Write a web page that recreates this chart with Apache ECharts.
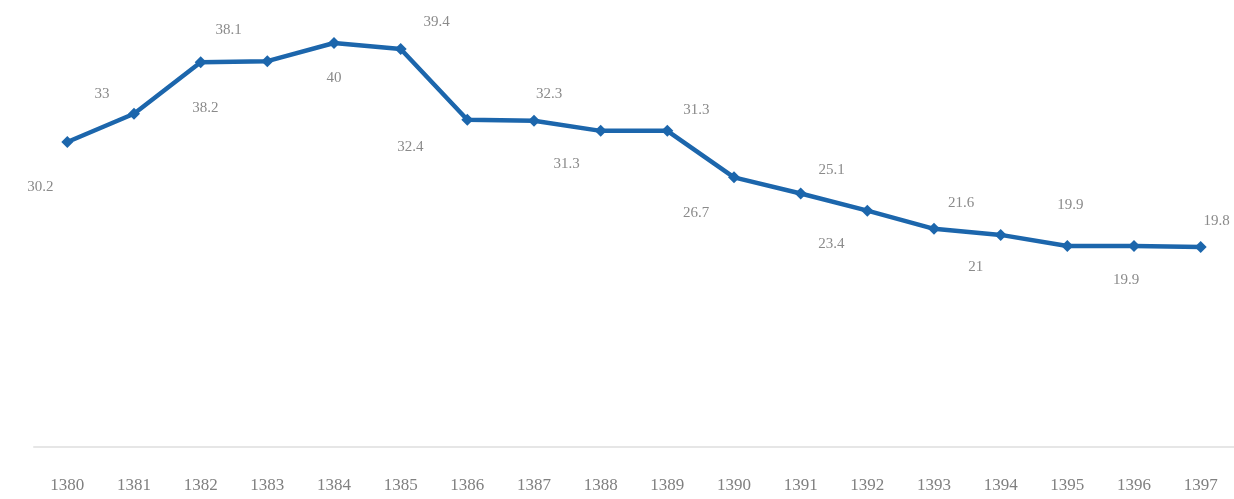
<!DOCTYPE html>
<html>
<head>
<meta charset="utf-8">
<script src="https://cdn.jsdelivr.net/npm/echarts@6/dist/echarts.min.js"></script>
<style>
  html, body { margin: 0; padding: 0; background: #fff; }
  #chart { width: 1234px; height: 499px; }
</style>
</head>
<body>
<div id="chart"></div>
<script>
// years (solar hijri)
var years = ['1380', '1381', '1382', '1383', '1384', '1385', '1386', '1387', '1388',
             '1389', '1390', '1391', '1392', '1393', '1394', '1395', '1396', '1397'];
var values = [30.2, 33, 38.1, 38.2, 40, 39.4, 32.4, 32.3, 31.3,
              31.3, 26.7, 25.1, 23.4, 21.6, 21, 19.9, 19.9, 19.8];

// where each value label sits relative to its point (px)
var labelShift = [[-27, 45], [-32, -20], [28, -32], [-62, 47], [0, 35], [36, -27],
                  [-57, 27], [15, -27], [-34, 33], [29, -21], [-38, 36], [31, -23],
                  [-36, 33], [27, -26], [-25, 32], [3, -41], [-8, 34], [16, -26]];

var chart = echarts.init(document.getElementById('chart'));

var points = values.map(function (v, i) {
  return {
    value: v,
    label: { offset: labelShift[i] }
  };
});

chart.setOption({
  animation: false,
  grid: { left: 34, right: -3, top: 43, bottom: 52 },
  xAxis: {
    type: 'category',
    data: years,
    boundaryGap: true,
    axisLine: { lineStyle: { color: '#e6e6e6', width: 2 } },
    axisTick: { show: false },
    axisLabel: {
      color: '#808080',
      fontFamily: 'Liberation Serif',
      fontSize: 17,
      margin: 30
    }
  },
  yAxis: {
    type: 'value',
    min: 0,
    max: 40,
    show: false,
    splitLine: { show: false }
  },
  series: [{
    type: 'line',
    data: points,
    symbol: 'diamond',
    symbolSize: 12,
    lineStyle: { color: '#1c66ac', width: 4.5 },
    itemStyle: { color: '#1c66ac' },
    label: {
      show: true,
      position: 'inside',
      align: 'center',
      verticalAlign: 'middle',
      color: '#8a8a8a',
      fontFamily: 'Liberation Serif',
      fontSize: 15
    }
  }]
});
</script>
</body>
</html>
